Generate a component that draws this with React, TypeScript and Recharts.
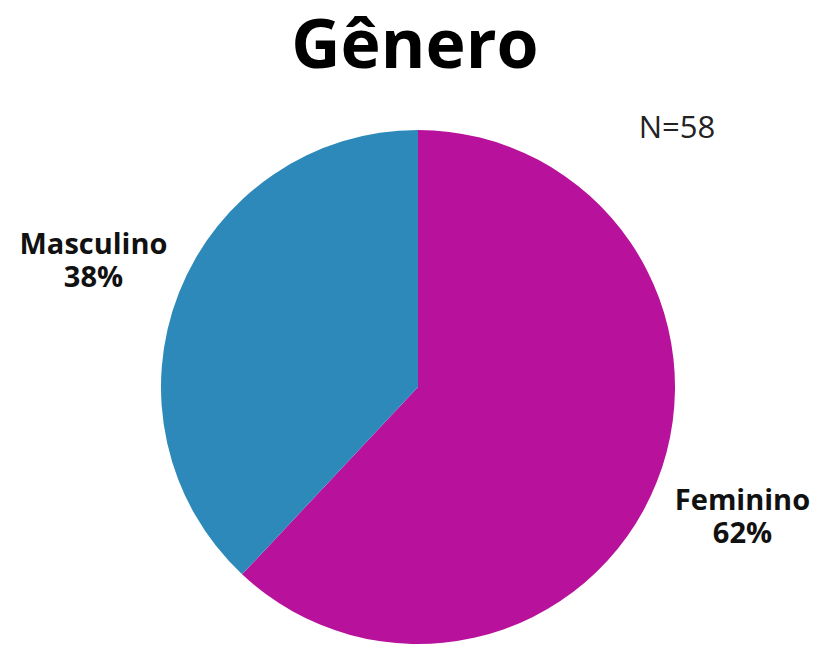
import React from "react";
import { PieChart, Pie, Cell, Customized } from "recharts";

const categories = ["Feminino", "Masculino"];
const values = [62, 38];
const colors = ["#B8119B", "#2D89B9"];
const title = "Gênero";
const nLabel = "N=58";

const data = categories.map((name, i) => ({ name, value: values[i] }));

const RADIAN = Math.PI / 180;
const FONT = "'Open Sans', sans-serif";

const renderLabel = (props: any) => {
  const { cx, cy, midAngle, outerRadius, name, value } = props;
  const r = outerRadius + 92;
  const x = cx + r * Math.cos(-midAngle * RADIAN);
  const y = cy + r * Math.sin(-midAngle * RADIAN);
  return (
    <text
      x={x}
      y={y}
      textAnchor="middle"
      fill="#111"
      fontFamily={FONT}
      fontWeight={700}
      fontSize={29}
    >
      <tspan x={x} dy={-5}>{name}</tspan>
      <tspan x={x} dy={33}>{`${value}%`}</tspan>
    </text>
  );
};

export default function App() {
  return (
    <div style={{ position: "absolute", left: 0, top: 0, background: "#fff" }}>
      <PieChart width={813} height={646} margin={{ top: 0, right: 0, bottom: 0, left: 0 }}>
        <Customized
          component={() => (
            <g>
              <text
                x={415}
                y={68}
                textAnchor="middle"
                fontFamily={FONT}
                fontWeight={700}
                fontSize={68}
                fill="#000"
              >
                {title}
              </text>
              <text
                x={677}
                y={138}
                textAnchor="middle"
                fontFamily={FONT}
                fontWeight={400}
                fontSize={31}
                fill="#222"
              >
                {nLabel}
              </text>
            </g>
          )}
        />
        <Pie
          data={data}
          dataKey="value"
          nameKey="name"
          cx={418}
          cy={387}
          outerRadius={257}
          startAngle={90}
          endAngle={-270}
          stroke="none"
          label={renderLabel}
          labelLine={false}
          isAnimationActive={false}
        >
          {data.map((d, i) => (
            <Cell key={d.name} fill={colors[i]} />
          ))}
        </Pie>
      </PieChart>
    </div>
  );
}
